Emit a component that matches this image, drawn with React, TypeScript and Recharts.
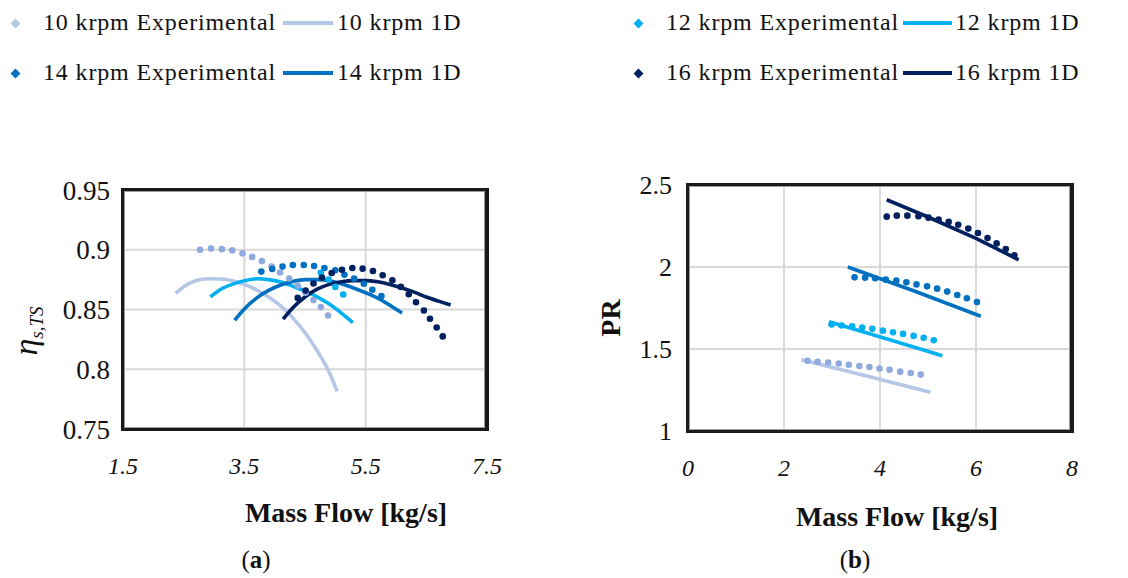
import {
  ComposedChart,
  Line,
  Scatter,
  XAxis,
  YAxis,
  CartesianGrid,
} from "recharts";

// [mass flow kg/s, efficiency]
const EFF_EXP_10 = [[2.77, 0.9], [2.95, 0.901], [3.13, 0.9005], [3.3, 0.8995], [3.47, 0.897], [3.63, 0.894], [3.79, 0.8905], [3.95, 0.886], [4.09, 0.881], [4.24, 0.876], [4.38, 0.87], [4.51, 0.864], [4.64, 0.858], [4.76, 0.852], [4.88, 0.845]];
const EFF_1D_10 = [[2.37, 0.8635], [2.5, 0.869], [2.7, 0.874], [2.9, 0.8757], [3.1, 0.8755], [3.3, 0.874], [3.5, 0.871], [3.7, 0.8665], [3.9, 0.8605], [4.1, 0.853], [4.3, 0.843], [4.5, 0.8305], [4.7, 0.8155], [4.9, 0.7975], [5.03, 0.7815]];
const EFF_EXP_12 = [[4.76, 0.8808], [4.89, 0.875], [5.0, 0.8689], [5.13, 0.8625]];
const EFF_1D_12 = [[2.94, 0.8605], [3.1, 0.8665], [3.3, 0.871], [3.5, 0.874], [3.7, 0.8757], [3.9, 0.875], [4.1, 0.873], [4.3, 0.8695], [4.5, 0.8655], [4.7, 0.8605], [4.9, 0.8545], [5.1, 0.847], [5.29, 0.839]];
const EFF_EXP_14 = [[3.78, 0.8817], [3.96, 0.8839], [4.13, 0.8859], [4.3, 0.8873], [4.48, 0.8873], [4.65, 0.8864], [4.82, 0.8847], [5.0, 0.8828], [5.15, 0.8791], [5.31, 0.8758], [5.47, 0.8715], [5.61, 0.8665], [5.76, 0.8612]];
const EFF_1D_14 = [[3.34, 0.841], [3.5, 0.8505], [3.7, 0.8595], [3.9, 0.866], [4.1, 0.8705], [4.3, 0.8735], [4.5, 0.875], [4.7, 0.875], [4.9, 0.874], [5.1, 0.8715], [5.3, 0.868], [5.5, 0.864], [5.7, 0.8595], [5.9, 0.8535], [6.1, 0.847]];
const EFF_EXP_16 = [[4.38, 0.8597], [4.51, 0.8658], [4.64, 0.8717], [4.78, 0.8767], [4.94, 0.8806], [5.11, 0.8833], [5.28, 0.8847], [5.45, 0.8842], [5.62, 0.8822], [5.78, 0.8786], [5.94, 0.8744], [6.08, 0.8689], [6.21, 0.8628], [6.33, 0.8561], [6.46, 0.8492], [6.56, 0.8422], [6.67, 0.835], [6.77, 0.8275]];
const EFF_1D_16 = [[4.14, 0.842], [4.3, 0.8515], [4.5, 0.8605], [4.7, 0.867], [4.9, 0.871], [5.1, 0.8733], [5.3, 0.8742], [5.5, 0.8742], [5.7, 0.8732], [5.9, 0.871], [6.1, 0.868], [6.3, 0.8645], [6.5, 0.8605], [6.7, 0.857], [6.9, 0.8537]];

// [mass flow kg/s, pressure ratio]
const PR_EXP_10 = [[2.49, 1.428], [2.7, 1.422], [2.92, 1.418], [3.14, 1.412], [3.35, 1.404], [3.57, 1.396], [3.78, 1.39], [3.99, 1.381], [4.2, 1.373], [4.42, 1.362], [4.64, 1.354], [4.85, 1.344]];
const PR_1D_10 = [[2.36, 1.434], [3.7, 1.337], [5.05, 1.236]];
const PR_EXP_12 = [[2.99, 1.649], [3.2, 1.643], [3.42, 1.639], [3.63, 1.631], [3.84, 1.623], [4.06, 1.612], [4.27, 1.602], [4.48, 1.592], [4.7, 1.58], [4.91, 1.568], [5.12, 1.553]];
const PR_1D_12 = [[2.94, 1.666], [4.1, 1.565], [5.3, 1.459]];
const PR_EXP_14 = [[3.47, 1.937], [3.69, 1.935], [3.9, 1.931], [4.12, 1.923], [4.34, 1.917], [4.55, 1.907], [4.76, 1.894], [4.98, 1.882], [5.19, 1.868], [5.4, 1.85], [5.61, 1.829], [5.81, 1.809], [6.02, 1.786]];
const PR_1D_14 = [[3.33, 2.0], [4.7, 1.855], [6.1, 1.7]];
const PR_EXP_16 = [[4.14, 2.307], [4.35, 2.313], [4.57, 2.313], [4.8, 2.31], [5.01, 2.301], [5.22, 2.289], [5.43, 2.275], [5.63, 2.258], [5.84, 2.234], [6.04, 2.207], [6.24, 2.177], [6.43, 2.144], [6.62, 2.109], [6.8, 2.072]];
const PR_1D_16 = [[4.14, 2.41], [5.0, 2.305], [6.0, 2.175], [6.89, 2.044]];

const EFF_X_TICKS = [1.5, 3.5, 5.5, 7.5];
const EFF_Y_TICKS = [0.75, 0.8, 0.85, 0.9, 0.95];
const PR_X_TICKS = [0, 2, 4, 6, 8];
const PR_Y_TICKS = [1, 1.5, 2, 2.5];

const SPEEDS = ["10", "12", "14", "16"];

const COLORS = {
  line10: "#b4c7e7",
  dot10: "#8faadc",
  c12: "#00b0f0",
  c14: "#0070c0",
  c16: "#002060",
};

const FONT = '"Liberation Serif", "Times New Roman", serif';

const toPts = (arr: number[][]) => arr.map(([x, y]) => ({ x, y }));

const dotShape = (color: string) => (p: any) => (
  <circle cx={p.cx} cy={p.cy} r={3.3} fill={color} />
);

type Series = { exp: number[][]; oneD: number[][]; dot: string; line: string; curve: "monotone" | "linear" };

function seriesList(sets: number[][][], curve: "monotone" | "linear"): Series[] {
  const dots = [COLORS.dot10, COLORS.c12, COLORS.c14, COLORS.c16];
  const lines = [COLORS.line10, COLORS.c12, COLORS.c14, COLORS.c16];
  return SPEEDS.map((_, i) => ({
    exp: sets[i * 2],
    oneD: sets[i * 2 + 1],
    dot: dots[i],
    line: lines[i],
    curve,
  }));
}

function renderSeries(list: Series[], tag: string) {
  const out: any[] = [];
  list.forEach((s, i) => {
    out.push(
      <Scatter
        key={`${tag}e${i}`}
        data={toPts(s.exp)}
        dataKey="y"
        shape={dotShape(s.dot)}
        isAnimationActive={false}
      />
    );
    out.push(
      <Line
        key={`${tag}l${i}`}
        data={toPts(s.oneD)}
        dataKey="y"
        type={s.curve}
        stroke={s.line}
        strokeWidth={3.6}
        dot={false}
        activeDot={false}
        isAnimationActive={false}
      />
    );
  });
  return out;
}

const yTick = (size: number) => ({ fontFamily: FONT, fontSize: size, fill: "#111" });
const xTick = { fontFamily: FONT, fontSize: 24, fontStyle: "italic", fill: "#111" };

function Legend() {
  const rows = [23, 73];
  const groups = [
    { dia: 15, text: 43, l1: 283, l2: 333, t2: 337 },
    { dia: 638, text: 666, l1: 903, l2: 952, t2: 955 },
  ];
  const swatch = [COLORS.line10, COLORS.c12, COLORS.c14, COLORS.c16];
  const txt: any = {
    position: "absolute",
    fontFamily: FONT,
    fontSize: 24,
    letterSpacing: 0.85,
    color: "#111",
    lineHeight: "24px",
    whiteSpace: "nowrap",
  };
  const items: any[] = [];
  rows.forEach((y, ri) => {
    groups.forEach((g, gi) => {
      const idx = ri * 2 + gi;
      const sp = SPEEDS[idx];
      items.push(
        <div
          key={`d${idx}`}
          style={{
            position: "absolute",
            left: g.dia - 3.5,
            top: y - 3.5,
            width: 7,
            height: 7,
            background: swatch[idx],
            transform: "rotate(45deg)",
          }}
        />
      );
      items.push(
        <div key={`t${idx}`} style={{ ...txt, left: g.text, top: y - 13 }}>
          {sp} krpm Experimental
        </div>
      );
      items.push(
        <div
          key={`l${idx}`}
          style={{
            position: "absolute",
            left: g.l1,
            top: y - 2,
            width: g.l2 - g.l1,
            height: 4,
            background: swatch[idx],
          }}
        />
      );
      items.push(
        <div key={`u${idx}`} style={{ ...txt, left: g.t2, top: y - 13 }}>
          {sp} krpm 1D
        </div>
      );
    });
  });
  return <>{items}</>;
}

function Frame({ left, top, width, height }: { left: number; top: number; width: number; height: number }) {
  return (
    <div
      style={{
        position: "absolute",
        left,
        top,
        width,
        height,
        boxSizing: "border-box",
        border: "3px solid #1a1a1a",
        borderRightWidth: 4,
        boxShadow: "inset 0 0 0 1px #9a9a9a",
        pointerEvents: "none",
      }}
    />
  );
}

export default function App() {
  const effSeries = seriesList(
    [EFF_EXP_10, EFF_1D_10, EFF_EXP_12, EFF_1D_12, EFF_EXP_14, EFF_1D_14, EFF_EXP_16, EFF_1D_16],
    "monotone"
  );
  const prSeries = seriesList(
    [PR_EXP_10, PR_1D_10, PR_EXP_12, PR_1D_12, PR_EXP_14, PR_1D_14, PR_EXP_16, PR_1D_16],
    "linear"
  );

  const title: any = {
    position: "absolute",
    fontFamily: FONT,
    fontWeight: 700,
    fontSize: 28,
    color: "#111",
    whiteSpace: "nowrap",
    transform: "translate(-50%, -50%)",
  };
  const caption: any = {
    position: "absolute",
    fontFamily: FONT,
    fontSize: 25,
    color: "#111",
    transform: "translate(-50%, -50%)",
  };

  return (
    <div style={{ position: "absolute", left: 0, top: 0, width: 1128, height: 578, background: "#fff", overflow: "hidden" }}>
      <Legend />

      {/* (a) efficiency */}
      <div style={{ position: "absolute", left: 0, top: 150 }}>
        <ComposedChart width={560} height={330} margin={{ top: 40, right: 73, bottom: 0, left: 0 }}>
          <CartesianGrid stroke="#d9d9d9" strokeWidth={2} />
          <XAxis
            type="number"
            dataKey="x"
            domain={[1.5, 7.5]}
            ticks={EFF_X_TICKS}
            interval={0}
            allowDataOverflow
            axisLine={false}
            tickLine={false}
            tickSize={0}
            tickMargin={28}
            height={51}
            tick={xTick}
          />
          <YAxis
            type="number"
            domain={[0.75, 0.95]}
            ticks={EFF_Y_TICKS}
            interval={0}
            allowDataOverflow
            axisLine={false}
            tickLine={false}
            tickSize={0}
            tickMargin={13}
            width={123}
            tick={yTick(27)}
          />
          {renderSeries(effSeries, "a")}
        </ComposedChart>
      </div>
      <Frame left={121} top={188} width={368} height={243} />

      {/* (b) pressure ratio */}
      <div style={{ position: "absolute", left: 560, top: 150 }}>
        <ComposedChart width={568} height={330} margin={{ top: 35, right: 56, bottom: 0, left: 0 }}>
          <CartesianGrid stroke="#d9d9d9" strokeWidth={2} />
          <XAxis
            type="number"
            dataKey="x"
            domain={[0, 8]}
            ticks={PR_X_TICKS}
            interval={0}
            allowDataOverflow
            axisLine={false}
            tickLine={false}
            tickSize={0}
            tickMargin={28}
            height={49}
            tick={xTick}
          />
          <YAxis
            type="number"
            domain={[1, 2.5]}
            ticks={PR_Y_TICKS}
            interval={0}
            allowDataOverflow
            axisLine={false}
            tickLine={false}
            tickSize={0}
            tickMargin={16}
            width={128}
            tick={yTick(26)}
          />
          {renderSeries(prSeries, "b")}
        </ComposedChart>
      </div>
      <Frame left={686} top={183} width={388} height={250} />

      {/* axis titles */}
      <svg width={1128} height={578} style={{ position: "absolute", left: 0, top: 0, pointerEvents: "none" }}>
        <text transform="translate(37,331) rotate(-90)" textAnchor="middle" fontFamily={FONT} fill="#111">
          <tspan fontSize={34} fontStyle="italic">η</tspan>
          <tspan fontSize={19} fontStyle="italic" dy={6}>s,TS</tspan>
        </text>
        <text transform="translate(620,318) rotate(-90)" textAnchor="middle" fontFamily={FONT} fontWeight={700} fontSize={28} fill="#111">
          PR
        </text>
      </svg>
      <div style={{ ...title, left: 346, top: 513 }}>Mass Flow [kg/s]</div>
      <div style={{ ...title, left: 897, top: 517 }}>Mass Flow [kg/s]</div>
      <div style={{ ...caption, left: 256, top: 560 }}>
        (<b>a</b>)
      </div>
      <div style={{ ...caption, left: 855, top: 560 }}>
        (<b>b</b>)
      </div>
    </div>
  );
}
